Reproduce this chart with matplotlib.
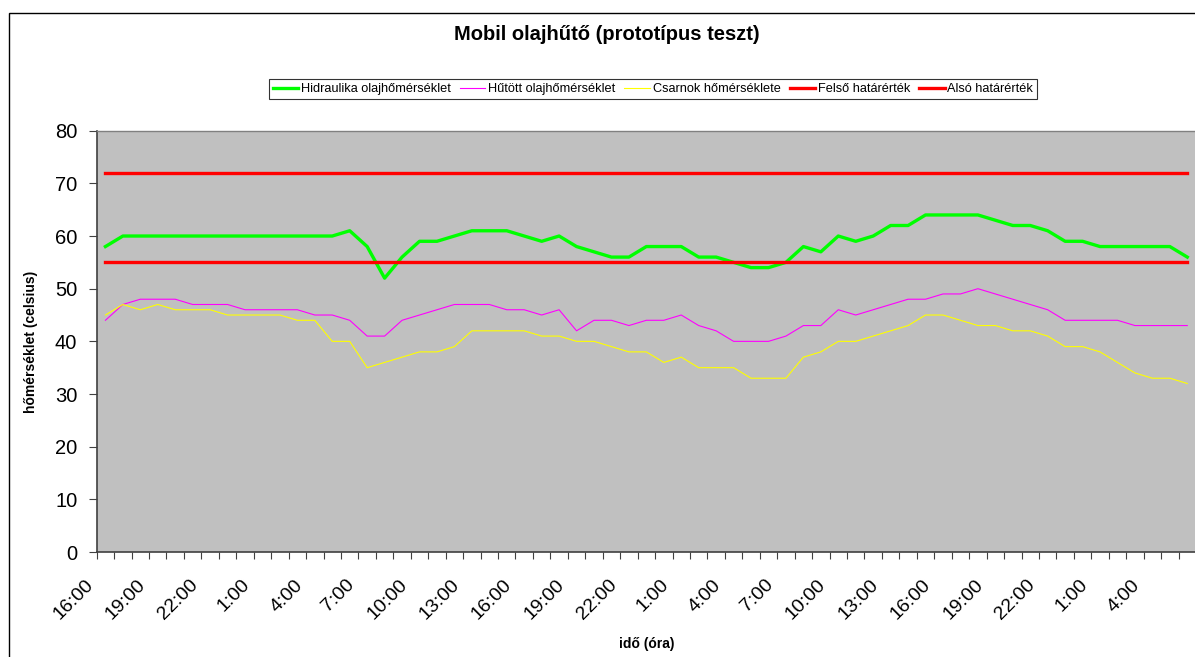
import matplotlib
matplotlib.use("Agg")
import matplotlib.pyplot as plt
from matplotlib.patches import Rectangle
from matplotlib.transforms import ScaledTranslation
import numpy as np

plt.rcParams['font.family'] = ['Liberation Sans', 'DejaVu Sans']

categories = ["16:00", "17:00", "18:00", "19:00", "20:00", "21:00", "22:00", "23:00", "0:00",
              "1:00", "2:00", "3:00", "4:00", "5:00", "6:00", "7:00", "8:00", "9:00",
              "10:00", "11:00", "12:00", "13:00", "14:00", "15:00", "16:00", "17:00", "18:00",
              "19:00", "20:00", "21:00", "22:00", "23:00", "0:00", "1:00", "2:00", "3:00",
              "4:00", "5:00", "6:00", "7:00", "8:00", "9:00", "10:00", "11:00", "12:00",
              "13:00", "14:00", "15:00", "16:00", "17:00", "18:00", "19:00", "20:00", "21:00",
              "22:00", "23:00", "0:00", "1:00", "2:00", "3:00", "4:00", "5:00", "6:00"]

hidraulika = [58, 60, 60, 60, 60, 60, 60, 60, 60, 60, 60, 60, 60, 60, 61, 58, 52, 56, 59, 59, 60,
              61, 61, 61, 60, 59, 60, 58, 57, 56, 56, 58, 58, 58, 56, 56, 55, 54, 54, 55, 58, 57,
              60, 59, 60, 62, 62, 64, 64, 64, 64, 63, 62, 62, 61, 59, 59, 58, 58, 58, 58, 58, 56]

hutott = [44, 47, 48, 48, 48, 47, 47, 47, 46, 46, 46, 46, 45, 45, 44, 41, 41, 44, 45, 46, 47,
          47, 47, 46, 46, 45, 46, 42, 44, 44, 43, 44, 44, 45, 43, 42, 40, 40, 40, 41, 43, 43,
          46, 45, 46, 47, 48, 48, 49, 49, 50, 49, 48, 47, 46, 44, 44, 44, 44, 43, 43, 43, 43]

csarnok = [45, 47, 46, 47, 46, 46, 46, 45, 45, 45, 45, 44, 44, 40, 40, 35, 36, 37, 38, 38, 39,
           42, 42, 42, 42, 41, 41, 40, 40, 39, 38, 38, 36, 37, 35, 35, 35, 33, 33, 33, 37, 38,
           40, 40, 41, 42, 43, 45, 45, 44, 43, 43, 42, 42, 41, 39, 39, 38, 36, 34, 33, 33, 32]

felso_hatar = [72] * len(categories)
also_hatar = [55] * len(categories)

tick_labels = ["16:00", "19:00", "22:00", "1:00", "4:00", "7:00", "10:00", "13:00", "16:00",
               "19:00", "22:00", "1:00", "4:00", "7:00", "10:00", "13:00", "16:00", "19:00",
               "22:00", "1:00", "4:00"]

W, H = 1195, 657
fig = plt.figure(figsize=(W / 100, H / 100), dpi=100)
fig.patch.set_facecolor('white')

# outer chart border
fig.patches.append(Rectangle((8.5 / W, -0.1), 1.2, 1.1 - 12.5 / H, transform=fig.transFigure,
                             fill=False, edgecolor='black', linewidth=1.0))

left, right, top, bottom = 96.7, 1196.0, 130.7, 552.0
ax = fig.add_axes([left / W, 1 - bottom / H, (right - left) / W, (bottom - top) / H])
ax.set_facecolor('#C0C0C0')

x = np.arange(len(categories))
ax.plot(x, hidraulika, color='#00FF00', lw=2.4, label='Hidraulika olajhőmérséklet')
ax.plot(x, hutott, color='#FF00FF', lw=0.8, label='Hűtött olajhőmérséklet')
ax.plot(x, csarnok, color='#FFFF00', lw=0.8, label='Csarnok hőmérséklete')
ax.plot(x, felso_hatar, color='#FF0000', lw=2.4, label='Felső határérték')
ax.plot(x, also_hatar, color='#FF0000', lw=2.4, label='Alsó határérték')

ax.set_xlim(-0.5, len(categories) - 0.5)
ax.set_ylim(0, 80)
ax.set_yticks(np.arange(0, 81, 10))
ax.tick_params(axis='y', direction='out', length=6, width=0.8, color='#404040',
               labelsize=14.5, pad=8)

ax.set_xticks(np.arange(-0.5, len(categories) + 0.5, 1))
ax.set_xticklabels([])
ax.tick_params(axis='x', which='major', direction='out', length=5, width=0.8, color='#404040')
ax.set_xticks(np.arange(0, len(categories), 3), minor=True)
ax.set_xticklabels(tick_labels, minor=True, rotation=45, ha='right', va='center',
                   rotation_mode='anchor', fontsize=14)
ax.tick_params(axis='x', which='minor', length=0, pad=14)
offset = ScaledTranslation(-15 / 100, -11 / 100, fig.dpi_scale_trans)
for lab in ax.get_xticklabels(minor=True):
    lab.set_transform(lab.get_transform() + offset)

for s in ['left', 'bottom']:
    ax.spines[s].set_color('#404040')
    ax.spines[s].set_linewidth(1.2)
ax.spines['top'].set_color('#808080')
ax.spines['top'].set_linewidth(1.0)
ax.spines['right'].set_visible(False)

fig.text(607 / W, 1 - 35 / H, 'Mobil olajhűtő (prototípus teszt)', ha='center', va='center',
         fontsize=14.5, fontweight='bold')
fig.text(31 / W, 1 - 342 / H, 'hőmérséklet (celsius)', ha='center', va='center', rotation=90,
         fontsize=10, fontweight='bold')
fig.text(647 / W, 1 - 644 / H, 'idő (óra)', ha='center', va='center', fontsize=10,
         fontweight='bold')

leg = fig.legend(loc='center', bbox_to_anchor=(653 / W, 1 - 89 / H), ncol=5, fontsize=9.2,
                 frameon=True, fancybox=False, edgecolor='black', handlelength=2.0,
                 handletextpad=0.2, columnspacing=0.72, borderpad=0.3, borderaxespad=0)
leg.get_frame().set_linewidth(0.8)

fig.savefig('out.png', dpi=100)
